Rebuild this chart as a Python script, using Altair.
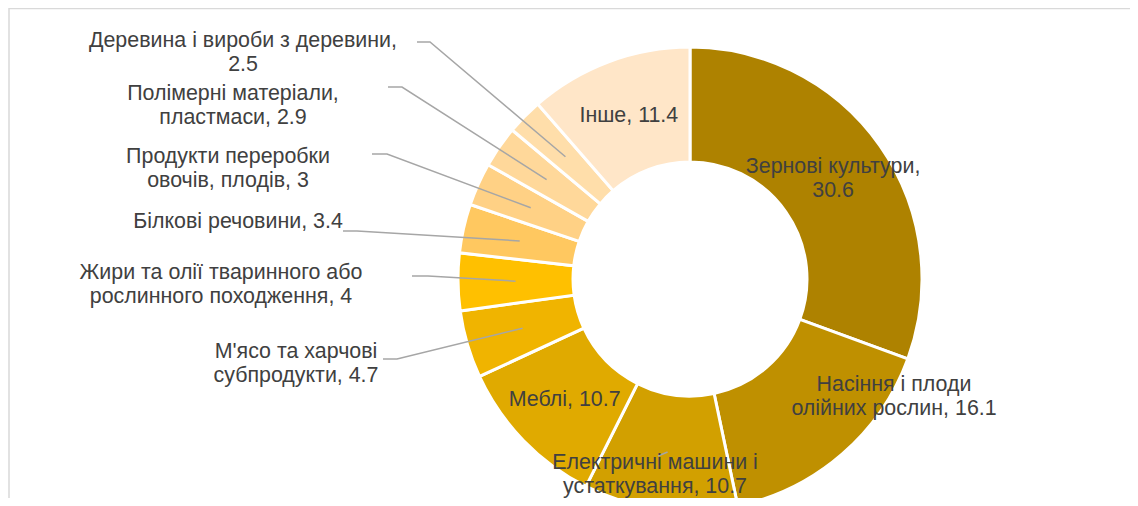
import altair as alt
import pandas as pd
import numpy as np

# ---------------- data ----------------
categories = [
    "Зернові культури",
    "Насіння і плоди олійних рослин",
    "Електричні машини і устаткування",
    "Меблі",
    "М'ясо та харчові субпродукти",
    "Жири та олії тваринного або рослинного походження",
    "Білкові речовини",
    "Продукти переробки овочів, плодів",
    "Полімерні матеріали, пластмаси",
    "Деревина і вироби з деревини",
    "Інше",
]
values = [30.6, 16.1, 10.7, 10.7, 4.7, 4, 3.4, 3, 2.9, 2.5, 11.4]
label_texts = [
    "Зернові культури,\n30.6",
    "Насіння і плоди\nолійних рослин, 16.1",
    "Електричні машини і\nустаткування, 10.7",
    "Меблі, 10.7",
    "М'ясо та харчові\nсубпродукти, 4.7",
    "Жири та олії тваринного або\nрослинного походження, 4",
    "Білкові речовини, 3.4",
    "Продукти переробки\nовочів, плодів, 3",
    "Полімерні матеріали,\nпластмаси, 2.9",
    "Деревина і вироби з деревини,\n2.5",
    "Інше, 11.4",
]
colors = ["#AE8200", "#BF9000", "#D2A000", "#E0AA00", "#F0B400", "#FFC000",
          "#FFC860", "#FFD185", "#FFD89A", "#FFDEAA", "#FFE6C8"]

# ---------------- layout (pixel coordinates of the page) ----------------
W, H = 1122, 490
CX, CY = 690, 279
R_OUT, R_IN = 232, 117
R_LBL = 174.5
LINE_H = 24
# label block centres for labels moved out of the slice centroid
label_pos = {
    1: (894, 397),
    2: (655, 475),
    4: (296, 364),
    5: (221, 285),
    6: (238, 222),
    7: (228, 169),
    8: (233, 106),
    9: (243, 53),
}
# leader line points on the label side (slice centroid is appended)
leaders = {
    2: [(658, 456)],
    4: [(383, 359), (397, 359)],
    5: [(412, 276), (428, 276)],
    6: [(343, 231), (357, 231)],
    7: [(372, 154), (387, 154)],
    8: [(388, 87), (402, 87)],
    9: [(417, 42), (430, 42)],
}

# ---------------- derived tables ----------------
vals = np.array(values, dtype=float)
cum = np.cumsum(vals)
mid = (cum - vals / 2) / vals.sum() * 2 * np.pi
cxs = CX + R_LBL * np.sin(mid)
cys = CY - R_LBL * np.cos(mid)

arc_df = pd.DataFrame({
    "cat": categories, "value": values, "idx": list(range(len(values))),
    "cx": [CX] * len(values), "cy": [CY] * len(values),
})

lbl_rows = []
for i, t in enumerate(label_texts):
    x, y = label_pos.get(i, (cxs[i], cys[i]))
    n = t.count("\n") + 1
    lbl_rows.append({"text": t, "x": x, "y": y - (n - 1) * LINE_H / 2})
lbl_df = pd.DataFrame(lbl_rows)

line_rows = []
for i, pts in leaders.items():
    allpts = list(pts) + [(cxs[i], cys[i])]
    for k, (x, y) in enumerate(allpts):
        line_rows.append({"id": i, "k": k, "x": x, "y": y})
line_df = pd.DataFrame(line_rows)

frame_df = pd.DataFrame({
    "x": [9, 9], "x2": [1138, 9], "y": [8.5, 8], "y2": [8.5, 506]
})

xs = alt.Scale(domain=[8, 8 + W], nice=False, zero=False)
ys = alt.Scale(domain=[8, 8 + H], nice=False, zero=False, reverse=True)

frame = alt.Chart(frame_df).mark_rule(color="#D9D9D9", strokeWidth=1.5).encode(
    x=alt.X("x:Q", scale=xs, axis=None),
    x2="x2:Q",
    y=alt.Y("y:Q", scale=ys, axis=None),
    y2="y2:Q",
)

arcs = alt.Chart(arc_df).mark_arc(
    innerRadius=R_IN, outerRadius=R_OUT, stroke="white", strokeWidth=3
).encode(
    x=alt.X("cx:Q", scale=xs, axis=None),
    y=alt.Y("cy:Q", scale=ys, axis=None),
    theta=alt.Theta("value:Q", stack=True),
    order=alt.Order("idx:Q", sort="ascending"),
    color=alt.Color("cat:N", scale=alt.Scale(domain=categories, range=colors), legend=None),
)

lines = alt.Chart(line_df).mark_line(color="#A6A6A6", strokeWidth=1.5).encode(
    x=alt.X("x:Q", scale=xs, axis=None),
    y=alt.Y("y:Q", scale=ys, axis=None),
    detail="id:N",
    order="k:Q",
)

texts = alt.Chart(lbl_df).mark_text(
    font="Liberation Sans", fontSize=21.4, color="#404040", lineBreak="\n",
    lineHeight=LINE_H, align="center", baseline="middle"
).encode(
    x=alt.X("x:Q", scale=xs, axis=None),
    y=alt.Y("y:Q", scale=ys, axis=None),
    text="text:N",
)

chart = alt.layer(frame, arcs, lines, texts).properties(
    width=W, height=H, padding=0,
    autosize=alt.AutoSizeParams(type="none"),
).configure_view(strokeWidth=0)

chart.save("out.html", embed_options={"renderer": "svg", "actions": False})
